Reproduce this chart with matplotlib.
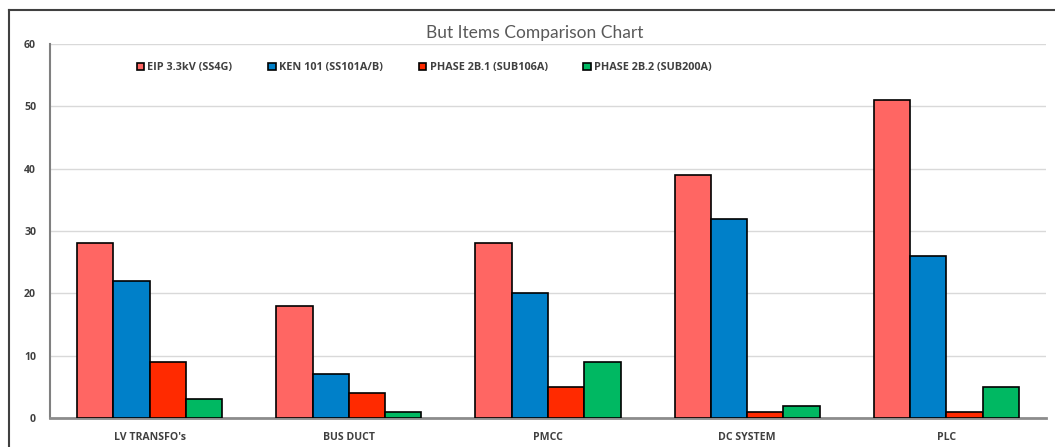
import matplotlib
matplotlib.use("Agg")
import matplotlib.pyplot as plt
from matplotlib.lines import Line2D
import numpy as np

# Chart data
categories = ["LV TRANSFO's", "BUS DUCT", "PMCC", "DC SYSTEM", "PLC"]
series_names = ["EIP 3.3kV (SS4G)", "KEN 101 (SS101A/B)",
                "PHASE 2B.1 (SUB106A)", "PHASE 2B.2 (SUB200A)"]
eip = [28, 18, 28, 39, 51]
ken = [22, 7, 20, 32, 26]
phase_21 = [9, 4, 5, 1, 1]
phase_22 = [3, 1, 9, 2, 5]
colors = ["#FF6663", "#0080C9", "#FF2A00", "#00B862"]

plt.rcParams['font.family'] = ['Open Sans', 'DejaVu Sans']

fig = plt.figure(figsize=(10.55, 4.47), dpi=100)
ax = fig.add_axes([50 / 1055, 1 - 418 / 447, 996 / 1055, 374 / 447])

x = np.arange(len(categories))
width = 0.182
all_series = [eip, ken, phase_21, phase_22]
for i, (vals, name, c) in enumerate(zip(all_series, series_names, colors)):
    ax.bar(x + (i - 1.5) * width, vals, width, color=c, edgecolor="black",
           linewidth=1.2, label=name, zorder=3)

ax.set_xlim(-0.5, len(categories) - 0.5)
ax.set_ylim(0, 60)
ax.set_yticks(range(0, 61, 10))
ax.yaxis.grid(True, color="#D9D9D9", linewidth=1.0, zorder=0)
ax.set_axisbelow(True)
for s in ["top", "right"]:
    ax.spines[s].set_visible(False)
ax.spines["left"].set_color("#808080")
ax.spines["left"].set_linewidth(1.5)
ax.spines["bottom"].set_color("#8C8C8C")
ax.spines["bottom"].set_linewidth(2)
ax.set_xticks(x)
ax.set_xticklabels(categories)
ax.tick_params(length=0, labelsize=7.6, labelcolor="#404040")
ax.tick_params(axis="y", pad=10)
ax.tick_params(axis="x", pad=10)
for lbl in ax.get_xticklabels() + ax.get_yticklabels():
    lbl.set_fontweight("bold")

leg = ax.legend(loc="center left", bbox_to_anchor=(0.087, 0.936), ncol=4,
                frameon=False, handlelength=0.7, handleheight=0.7,
                handletextpad=0.3, columnspacing=3.3, borderaxespad=0,
                borderpad=0, prop={"size": 7.8, "weight": "bold"})
for t in leg.get_texts():
    t.set_color("#404040")

fig.text(535 / 1055, 1 - 33 / 447, "But Items Comparison Chart",
         ha="center", va="center", fontsize=12.5, color="#595959",
         family=["Lato", "DejaVu Sans"])

# outer chart frame (top and left edges visible)
fig.add_artist(Line2D([9 / 1055, 1], [1 - 10 / 447, 1 - 10 / 447],
                      transform=fig.transFigure, color="#404040", linewidth=1.5))
fig.add_artist(Line2D([9 / 1055, 9 / 1055], [0, 1 - 10 / 447],
                      transform=fig.transFigure, color="#404040", linewidth=1.5))

fig.savefig("out.png", dpi=100)
